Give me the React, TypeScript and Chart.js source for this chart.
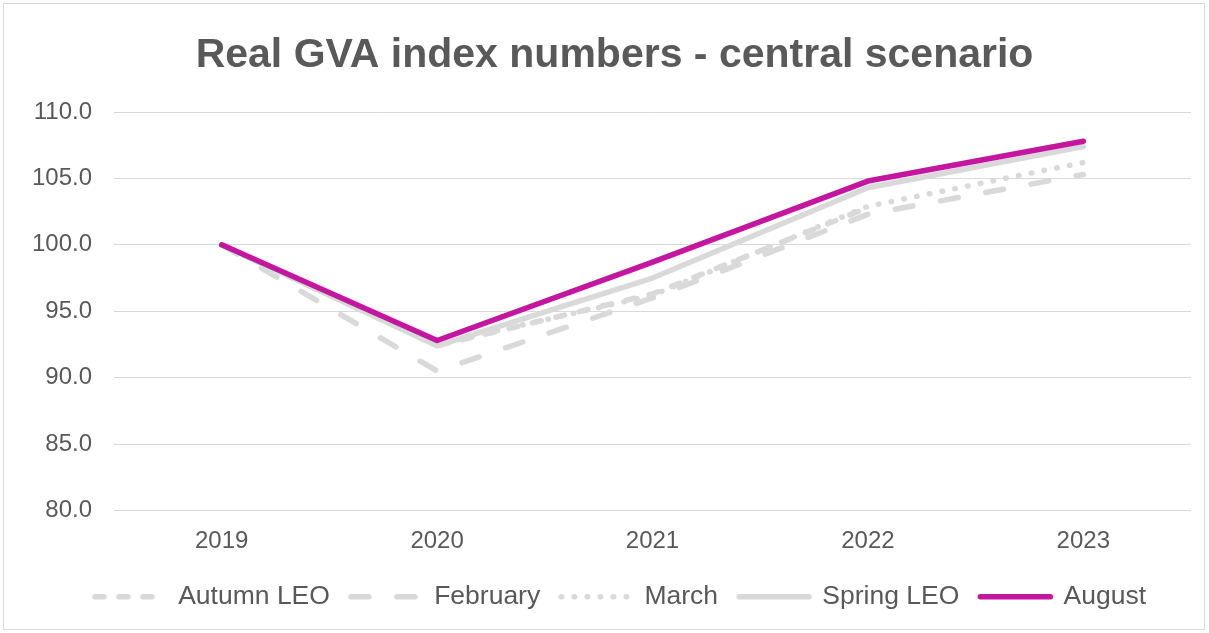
import React, { useEffect, useRef } from 'react';
import { Chart, registerables } from 'chart.js';

Chart.register(...registerables);

const years = ['2019', '2020', '2021', '2022', '2023'];
const autumnLeo = [100, 92.4, 96.3, 102.8, null];
const february = [100, 90.5, 96.0, 102.3, 105.3];
const march = [100, 92.5, 96.2, 102.9, 106.2];
const springLeo = [100, 92.4, 97.5, 104.3, 107.4];
const august = [100, 92.8, 98.7, 104.8, 107.8];

const seriesNames = ['Autumn LEO', 'February', 'March', 'Spring LEO', 'August'];
const titleText = 'Real GVA index numbers - central scenario';

const GRAY = '#d9d9d9';
const PURPLE = '#c4169f';
const TEXT = '#595959';
const LW = 5.5;

const shiftBoxes = {
  id: 'shiftBoxes',
  afterLayout(chart: any) {
    if (chart.legend) {
      chart.legend.left += 10;
      chart.legend.right += 10;
    }
    if (chart.titleBlock) {
      chart.titleBlock.left += 4;
      chart.titleBlock.right += 4;
    }
  },
};

export default function App() {
  const ref = useRef<HTMLCanvasElement>(null);

  useEffect(() => {
    document.body.style.margin = '0';
    Chart.defaults.font.family = "'Liberation Sans', Arial, sans-serif";
    const canvas = ref.current;
    if (!canvas) return;

    const seriesData = [autumnLeo, february, march, springLeo, august];
    const dashes = [[9, 15], [18, 28], [0.5, 12.5], [], []];
    const colors = [GRAY, GRAY, GRAY, GRAY, PURPLE];
    const orders = [4, 3, 2, 1, 0];

    const datasets = seriesNames.map((name, i) => ({
      label: name,
      data: seriesData[i],
      borderColor: colors[i],
      backgroundColor: colors[i],
      borderWidth: LW,
      borderDash: dashes[i],
      borderCapStyle: 'round' as const,
      borderJoinStyle: 'round' as const,
      pointRadius: 0,
      pointHoverRadius: 0,
      tension: 0,
      fill: false,
      order: orders[i],
      spanGaps: false,
    }));

    const chart = new Chart(canvas, {
      type: 'line',
      data: { labels: years, datasets },
      plugins: [shiftBoxes],
      options: {
        responsive: false,
        animation: false,
        devicePixelRatio: 1,
        layout: { padding: { top: 10, left: 26, right: 13, bottom: 8 } },
        plugins: {
          tooltip: { enabled: false },
          title: {
            display: true,
            text: titleText,
            color: TEXT,
            font: { size: 41, weight: 'bold' },
            padding: { top: 17, bottom: 31.8 },
          },
          legend: {
            display: true,
            position: 'bottom',
            labels: {
              usePointStyle: true,
              pointStyle: 'line',
              pointStyleWidth: 70,
              color: TEXT,
              font: { size: 26.5 },
              padding: 21,
              generateLabels: (ch: any) =>
                ch.data.datasets.map((ds: any, i: number) => ({
                  text: ds.label,
                  strokeStyle: ds.borderColor,
                  fillStyle: ds.borderColor,
                  lineWidth: LW,
                  lineDash: ds.borderDash,
                  lineCap: 'round',
                  lineJoin: 'round',
                  pointStyle: 'line',
                  hidden: false,
                  datasetIndex: i,
                  fontColor: TEXT,
                })),
            },
          },
        },
        scales: {
          x: {
            type: 'category',
            offset: true,
            grid: { display: false, drawTicks: false },
            border: { display: false },
            ticks: { color: TEXT, font: { size: 24 }, padding: 16, maxRotation: 0 },
            afterFit: (s: any) => {
              s.height = 52;
            },
          },
          y: {
            min: 80,
            max: 110,
            grid: { color: GRAY, lineWidth: 1, drawTicks: false },
            border: { display: false },
            ticks: {
              stepSize: 5,
              color: TEXT,
              font: { size: 24 },
              padding: 22,
              callback: (v: any) => Number(v).toFixed(1),
            },
            afterFit: (s: any) => {
              s.width = 84;
            },
          },
        },
      },
    });

    return () => chart.destroy();
  }, []);

  return (
    <div style={{ position: 'fixed', left: 0, top: 0, width: 1209, height: 633, background: '#fff', overflow: 'hidden' }}>
      <div
        style={{
          position: 'absolute',
          left: 3,
          top: 3,
          width: 1200,
          height: 625,
          border: '1px solid #d9d9d9',
        }}
      />
      <canvas
        ref={ref}
        width={1200}
        height={624}
        style={{ position: 'absolute', left: 4, top: 4, width: 1200, height: 624 }}
      />
    </div>
  );
}
